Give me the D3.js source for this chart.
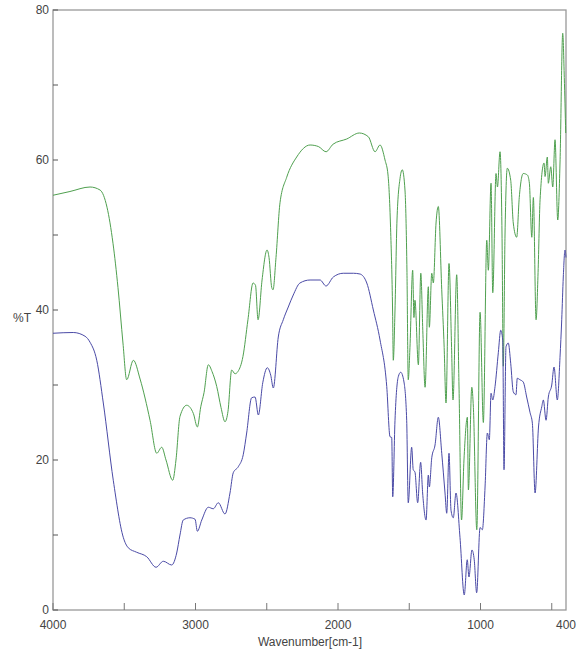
<!DOCTYPE html>
<html><head><meta charset="utf-8">
<script src="https://cdn.jsdelivr.net/npm/d3@7"></script>
<style>body{margin:0;background:#fff;}svg{display:block;font-family:"Liberation Sans",Arial,sans-serif;}</style>
</head><body>
<svg id="c" width="579" height="654"></svg>
<script>
const greenW = [4000,3881,3740,3670,3621,3579,3544,3509,3483,3436,3389,3319,3272,3237,3207,3160,3137,3109,3062,3015,2987,2963,2940,2910,2884,2851,2821,2793,2772,2746,2723,2702,2667,2632,2596,2579,2561,2533,2498,2484,2465,2456,2435,2407,2360,2290,2196,2138,2084,2035,1939,1850,1787,1740,1705,1670,1649,1630,1617,1612,1600,1586,1565,1549,1530,1516,1507,1495,1476,1467,1460,1436,1419,1405,1389,1366,1359,1342,1331,1312,1296,1272,1255,1242,1221,1203,1193,1167,1151,1133,1116,1092,1085,1061,1050,1026,1003,980,956,945,926,914,891,881,863,849,840,828,812,788,770,746,728,700,671,657,640,629,610,596,582,554,547,531,524,507,493,477,458,442,423,412,402];
const greenT = [55.3,55.8,56.4,56.0,53.7,48.9,43.0,35.6,30.7,33.3,30.8,25.3,20.9,21.7,20.0,17.3,20.0,25.8,27.3,26.2,24.4,27.1,29.0,32.7,31.8,29.8,27.0,25.1,26.5,32.0,31.5,31.8,33.8,38.7,43.6,43.3,38.7,44.0,48.0,47.0,43.0,42.7,47.0,54.3,57.7,60.4,62.0,61.8,61.1,62.1,62.8,63.6,63.1,61.1,62.0,60.0,58.0,50.3,40.0,33.3,40.0,52.0,57.5,58.7,56.0,45.0,30.7,35.0,45.3,39.0,41.3,32.7,44.9,37.3,29.7,43.1,37.7,44.9,43.6,51.6,53.8,42.7,35.0,27.6,46.2,35.0,28.0,44.7,30.0,12.0,20.0,25.7,16.0,29.7,27.0,10.7,39.7,25.0,49.3,45.3,56.9,42.3,58.2,56.4,61.1,50.0,32.5,50.0,58.9,57.3,51.6,49.7,55.0,58.2,58.0,56.9,49.7,55.0,38.7,45.0,54.7,59.6,57.8,60.4,56.9,59.1,56.4,62.7,52.0,59.6,76.9,71.0,63.6];

const blueW = [4000,3858,3775,3740,3693,3647,3577,3507,3472,3413,3342,3277,3226,3167,3132,3109,3086,3039,3003,2987,2956,2910,2875,2840,2793,2758,2735,2700,2665,2641,2606,2582,2559,2528,2496,2472,2454,2419,2384,2349,2314,2267,2196,2126,2084,2033,1963,1892,1846,1798,1752,1705,1658,1635,1623,1616,1600,1577,1560,1537,1518,1507,1483,1472,1460,1441,1420,1406,1382,1366,1359,1342,1319,1296,1272,1249,1237,1221,1207,1191,1172,1144,1114,1093,1081,1060,1044,1027,1003,987,968,952,938,926,914,898,875,858,844,835,821,805,788,770,751,742,723,700,676,652,636,617,593,570,559,540,524,500,484,461,442,430,419,407,400];
const blueT = [36.9,37.0,36.5,35.7,33.3,27.6,17.3,9.7,8.3,7.7,7.1,5.7,6.5,6.0,7.6,10.0,12.0,12.3,12.1,10.5,12.0,13.7,13.5,14.3,12.8,15.6,18.3,19.1,20.7,23.6,28.3,28.4,26.0,30.3,32.3,31.3,29.6,36.4,38.7,40.4,42.0,43.6,44.0,44.0,43.2,44.4,44.9,44.9,44.8,43.6,40.0,36.0,29.8,23.1,23.0,15.1,25.3,31.1,31.7,30.4,25.3,14.3,21.7,18.7,18.4,14.3,19.7,15.6,12.0,18.0,16.4,20.3,22.0,25.7,20.9,15.6,12.9,20.9,13.3,12.3,15.6,9.7,2.0,6.7,4.4,8.0,6.7,2.3,11.0,10.7,16.4,23.6,22.7,28.9,28.0,29.8,34.3,37.3,36.0,18.7,35.1,35.6,32.9,29.1,28.7,30.9,30.7,30.4,28.4,26.3,24.9,15.6,24.4,27.1,28.0,25.3,28.4,30.0,32.4,28.0,33.7,38.7,44.4,48.0,47.0];

const yTickLabels = [0,20,40,60,80];
const yMinorTicks = [10,30,50,70];
const xTickLabels = [4000,3000,2000,1000,400];
const xTicks = [4000,3500,3000,2500,2000,1500,1000,500];

const svg = d3.select("#c");
const x = d3.scaleLinear().domain([4000,400]).range([53,566]);
const y = d3.scaleLinear().domain([0,80]).range([610,10]);
const axisCol = "#999";

// frame
svg.append("rect").attr("x",x(4000)).attr("y",y(80)).attr("width",x(400)-x(4000)).attr("height",y(0)-y(80))
  .attr("fill","none").attr("stroke",axisCol).attr("stroke-width",1.3);

// y ticks
svg.append("g").selectAll("line").data(yTickLabels.concat(yMinorTicks)).join("line")
  .attr("x1",x(4000)).attr("x2",x(4000)+5).attr("y1",d=>y(d)).attr("y2",d=>y(d)).attr("stroke","#555");
svg.append("g").selectAll("text").data(yTickLabels).join("text")
  .attr("x",x(4000)-4).attr("y",d=>y(d)).attr("dy","0.35em").attr("text-anchor","end")
  .attr("font-size",12).attr("fill","#444").text(d=>d);

// x ticks
svg.append("g").selectAll("line").data(xTicks).join("line")
  .attr("x1",d=>x(d)).attr("x2",d=>x(d)).attr("y1",y(0)).attr("y2",y(0)-7).attr("stroke","#777");
svg.append("g").selectAll("text").data(xTickLabels).join("text")
  .attr("x",d=>x(d)).attr("y",y(0)+19).attr("text-anchor","middle")
  .attr("font-size",12).attr("fill","#444").text(d=>d);

svg.append("text").attr("x",310).attr("y",646).attr("text-anchor","middle").attr("font-size",12).attr("fill","#444").text("Wavenumber[cm-1]");
svg.append("text").attr("x",22).attr("y",322).attr("text-anchor","middle").attr("font-size",12).attr("fill","#444").text("%T");

const line = d3.line().x(d=>x(d[0])).y(d=>y(d[1])).curve(d3.curveMonotoneX);
svg.append("path").datum(greenW.map((w,i)=>[w,greenT[i]])).attr("d",line)
  .attr("fill","none").attr("stroke","#4fa04f").attr("stroke-width",1);
svg.append("path").datum(blueW.map((w,i)=>[w,blueT[i]])).attr("d",line)
  .attr("fill","none").attr("stroke","#4a4aa6").attr("stroke-width",1);
</script>
</body></html>
